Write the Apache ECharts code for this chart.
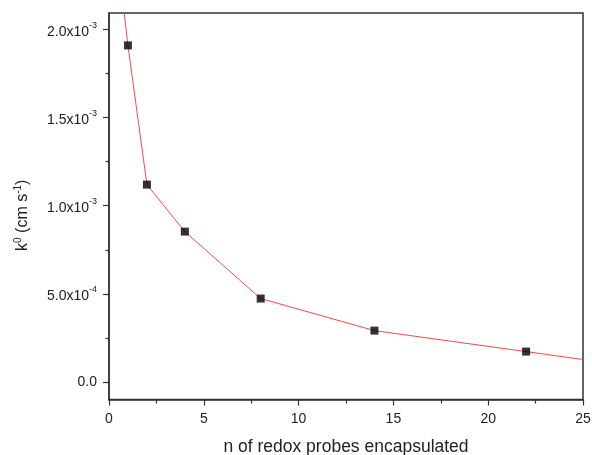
<!DOCTYPE html>
<html>
<head>
<meta charset="utf-8">
<script src="https://cdn.jsdelivr.net/npm/echarts@6/dist/echarts.min.js"></script>
<style>html,body{margin:0;padding:0;background:#fff;}#c{width:592px;height:455px;}</style>
</head>
<body>
<div id="c"></div>
<script>
// measured points
const nValues = [1, 2, 4, 8, 14, 22];
const k0Values = [1.91e-3, 1.12e-3, 0.853e-3, 0.473e-3, 0.291e-3, 0.172e-3];
// red connecting line (extends beyond data to plot edges)
const lineX = [0.8, 1, 2, 4, 8, 14, 22, 25];
const lineY = [2.094e-3, 1.91e-3, 1.12e-3, 0.853e-3, 0.473e-3, 0.291e-3, 0.172e-3, 0.127e-3];
// tick values
const yMajorTicks = [0, 5e-4, 1e-3, 1.5e-3, 2e-3];
const yMinorTicks = [2.5e-4, 7.5e-4, 1.25e-3, 1.75e-3];
const yTickLabels = ['0.0', '5.0x10|-4', '1.0x10|-3', '1.5x10|-3', '2.0x10|-3'];

const font = 'Liberation Sans, Arial, sans-serif';
const axisColor = '#333';

const chart = echarts.init(document.getElementById('c'), null, {renderer: 'canvas'});
const pts = nValues.map((x, i) => [x, k0Values[i]]);
const linePts = lineX.map((x, i) => [x, lineY[i]]);

function yLabel(v) {
  let idx = -1;
  for (let i = 0; i < yMajorTicks.length; i++) if (Math.abs(yMajorTicks[i] - v) < 1e-9) idx = i;
  if (idx < 0) return '';
  const s = yTickLabels[idx];
  if (s.indexOf('|') < 0) return '{c|' + s + '}';
  const p = s.split('|');
  return '{b|' + p[0] + '}{s|' + p[1] + '}';
}

chart.setOption({
  animation: false,
  backgroundColor: '#fff',
  grid: {
    left: 109, right: 9, top: 13, bottom: 55.5,
    outerBoundsMode: 'none', containLabel: false,
    show: true, borderColor: axisColor, borderWidth: 1.5, backgroundColor: 'transparent'
  },
  xAxis: {
    type: 'value', min: 0, max: 25, interval: 5,
    name: 'n of redox probes encapsulated',
    nameLocation: 'middle', nameGap: 38.5,
    nameTextStyle: {fontFamily: font, fontSize: 17.5, color: '#222'},
    axisLine: {show: true, onZero: false, lineStyle: {color: axisColor, width: 1.5}},
    axisTick: {show: true, inside: false, length: 6, lineStyle: {color: axisColor, width: 1.2}},
    minorTick: {show: true, splitNumber: 2, length: 4, lineStyle: {color: axisColor, width: 1.2}},
    axisLabel: {fontFamily: font, fontSize: 14, color: '#222', margin: 13},
    splitLine: {show: false}, minorSplitLine: {show: false}
  },
  yAxis: [{
    type: 'value', min: -1e-4, max: 2.094e-3,
    name: 'k{s|0} (cm s{s|-1})',
    nameLocation: 'middle', nameGap: 76, nameRotate: 90,
    nameTextStyle: {
      fontFamily: font, fontSize: 16, color: '#222', padding: [0, 18, 0, 0], lineHeight: 20,
      rich: {s: {fontFamily: font, fontSize: 10, lineHeight: 10, color: '#222', verticalAlign: 'top'}}
    },
    axisLine: {show: true, onZero: false, lineStyle: {color: axisColor, width: 1.5}},
    axisTick: {show: true, length: 6, customValues: yMajorTicks, lineStyle: {color: axisColor, width: 1.2}},
    axisLabel: {
      customValues: yMajorTicks, margin: 12,
      formatter: yLabel,
      rich: {
        c: {fontFamily: font, fontSize: 14, lineHeight: 18, color: '#222'},
        b: {fontFamily: font, fontSize: 14, lineHeight: 18, color: '#222', padding: [5, 0, 0, 0]},
        s: {fontFamily: font, fontSize: 9, lineHeight: 9, color: '#222', verticalAlign: 'top'}
      }
    },
    splitLine: {show: false}
  }, {
    type: 'value', min: -1e-4, max: 2.094e-3, position: 'left',
    axisLine: {show: false},
    axisTick: {show: true, length: 3.5, customValues: yMinorTicks, lineStyle: {color: axisColor, width: 1.2}},
    axisLabel: {show: false},
    splitLine: {show: false}
  }],
  series: [{
    type: 'line', data: linePts, yAxisIndex: 0,
    showSymbol: false, symbol: 'none',
    lineStyle: {color: '#ff4646', width: 1},
    clip: true, silent: true, z: 2
  }, {
    type: 'scatter', data: pts, yAxisIndex: 0,
    symbol: 'rect', symbolSize: 8,
    itemStyle: {color: '#000'},
    z: 3
  }]
});
</script>
</body>
</html>
